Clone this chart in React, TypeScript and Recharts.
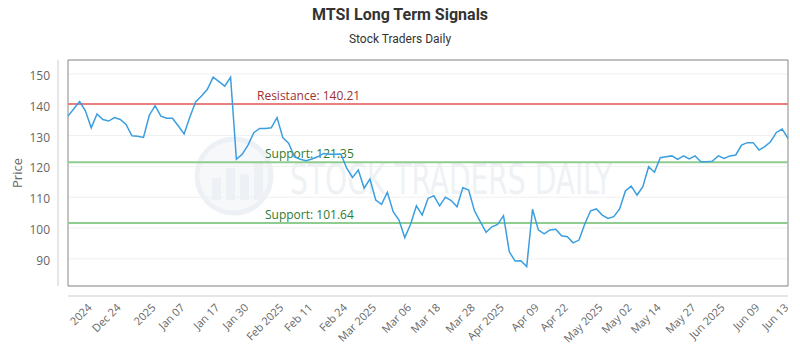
import React from 'react';
import {
  ComposedChart,
  Line,
  XAxis,
  YAxis,
  CartesianGrid,
  ReferenceLine,
  ReferenceArea,
} from 'recharts';

const prices: number[] = [
  136.3, 138.7, 141.0, 138.0, 132.5, 137.0, 135.2, 134.7, 135.8, 135.2,
  133.6, 129.9, 129.8, 129.4, 136.6, 139.7, 136.3, 135.6, 135.6, 133.1,
  130.5, 136.1, 141.0, 142.8, 145.0, 148.9, 147.5, 146.0, 148.9, 122.3,
  123.9, 126.9, 130.9, 132.3, 132.3, 132.5, 135.8, 129.3, 127.5, 123.1,
  122.3, 121.8, 122.4, 123.1, 124.2, 123.9, 123.9, 124.0, 119.4, 116.4,
  118.8, 112.9, 115.9, 109.1, 107.7, 111.6, 105.3, 102.6, 96.9, 101.2,
  107.2, 104.2, 109.6, 110.5, 107.2, 110.0, 108.9, 106.9, 113.1, 112.3,
  105.6, 102.1, 98.6, 100.4, 101.2, 104.0, 92.3, 89.3, 89.4, 87.5,
  106.1, 99.4, 98.1, 99.4, 99.6, 97.5, 97.2, 95.2, 96.1, 101.3,
  105.6, 106.2, 104.2, 103.1, 103.7, 106.2, 112.0, 113.6, 110.7, 113.4,
  119.9, 118.1, 122.8, 123.1, 123.4, 122.3, 123.4, 122.4, 123.4, 121.5,
  121.5, 121.7, 123.4, 122.6, 123.4, 123.7, 126.9, 127.7, 127.7, 125.3,
  126.4, 128.0, 131.0, 132.1, 129.1,
];

const tickIndices: number[] = [3, 8, 14, 19, 25, 30, 36, 41, 47, 52, 58, 63, 69, 74, 80, 85, 91, 96, 101, 107, 112, 118, 123];
const tickLabels: string[] = [
  '2024', 'Dec 24', '2025', 'Jan 07', 'Jan 17', 'Jan 30', 'Feb 2025', 'Feb 11', 'Feb 24',
  'Mar 2025', 'Mar 06', 'Mar 18', 'Mar 28', 'Apr 2025', 'Apr 09', 'Apr 22', 'May 2025',
  'May 02', 'May 14', 'May 27', 'Jun 2025', 'Jun 09', 'Jun 13',
];
const yTicks: number[] = [90, 100, 110, 120, 130, 140, 150];
const yDomain: [number, number] = [81.2, 154.5];
const resistance = 140.21;
const supports: number[] = [121.35, 101.64];

const data = prices.map((price, i) => ({ i, price }));
const lastIndex = prices.length - 1;

const tickText = (v: number) => {
  const k = tickIndices.indexOf(v);
  return k >= 0 ? tickLabels[k] : '';
};

const XTick = (props: any) => {
  const { x, y, payload } = props;
  return (
    <g transform={`translate(${x},${y})`}>
      <text
        transform="rotate(-45)"
        textAnchor="end"
        dy={8}
        dx={2}
        fill="#666"
        fontSize={11}
        fontFamily="'Open Sans', sans-serif"
      >
        {tickText(payload.value)}
      </text>
    </g>
  );
};

const YTick = (props: any) => {
  const { x, y, payload } = props;
  return (
    <text x={x} y={y} dy={6} textAnchor="end" fill="#666" fontSize={12} fontFamily="'Open Sans', sans-serif">
      {payload.value}
    </text>
  );
};

const LineLabel = (props: any) => {
  const { viewBox, text, color, dx } = props;
  if (!viewBox) return null;
  return (
    <text x={viewBox.x + dx} y={viewBox.y - 4} fill={color} fontSize={12} fontFamily="'Open Sans', sans-serif">
      {text}
    </text>
  );
};

const PriceLabel = (props: any) => {
  const { viewBox } = props;
  if (!viewBox) return null;
  const cx = viewBox.x + 17;
  const cy = viewBox.y + viewBox.height / 2;
  return (
    <text
      x={cx}
      y={cy}
      transform={`rotate(-90, ${cx}, ${cy})`}
      textAnchor="middle"
      dominantBaseline="central"
      fill="#666"
      fontSize={13}
      fontFamily="'Open Sans', sans-serif"
    >
      Price
    </text>
  );
};

export default function App() {
  return (
    <div style={{ position: 'absolute', left: 0, top: 0, width: 800, height: 350, background: '#fff' }}>
      <svg width={800} height={350} style={{ position: 'absolute', left: 0, top: 0 }}>
        <circle cx={234} cy={176} r={37} fill="#f6f8fa" stroke="#edf1f5" strokeWidth={5} />
        <rect x={212} y={178} width={9} height={22} fill="#edf1f5" />
        <rect x={226} y={168} width={9} height={32} fill="#edf1f5" />
        <rect x={240} y={174} width={9} height={26} fill="#edf1f5" />
        <rect x={254} y={162} width={9} height={38} fill="#edf1f5" />
        <text
          x={290}
          y={194}
          textLength={322}
          lengthAdjust="spacingAndGlyphs"
          fill="#eef2f5"
          fontSize={42}
          fontFamily="'DejaVu Sans Condensed', 'Roboto', sans-serif"
        >
          STOCK TRADERS DAILY
        </text>
      </svg>
      <div style={{ position: 'absolute', left: 0, top: 0 }}>
        <ComposedChart width={800} height={350} data={data} margin={{ top: 60, right: 12, bottom: 0, left: 0 }}>
          <XAxis xAxisId="gap" type="number" dataKey="i" domain={[0, lastIndex]} height={10} tick={false} axisLine={false} tickLine={false} />
          <XAxis
            xAxisId="main"
            type="number"
            dataKey="i"
            domain={[0, lastIndex]}
            ticks={tickIndices}
            interval={0}
            height={54}
            tick={<XTick />}
            tickLine={false}
            axisLine={{ stroke: '#ccc' }}
          />
          <YAxis yAxisId="gap" type="number" domain={yDomain} width={10} tick={false} axisLine={false} tickLine={false} />
          <YAxis
            yAxisId="main"
            type="number"
            domain={yDomain}
            ticks={yTicks}
            interval={0}
            width={58}
            tick={<YTick />}
            tickLine={false}
            axisLine={{ stroke: '#ccc' }}
            label={<PriceLabel />}
          />
          <CartesianGrid xAxisId="main" yAxisId="main" vertical={false} stroke="#f0f0f0" />
          <ReferenceLine
            xAxisId="main"
            yAxisId="main"
            y={resistance}
            stroke="#e88080"
            strokeWidth={2}
            label={<LineLabel text={`Resistance: ${resistance}`} color="#a03030" dx={189} />}
          />
          {supports.map((s) => (
            <ReferenceLine
              key={s}
              xAxisId="main"
              yAxisId="main"
              y={s}
              stroke="#8fcc8f"
              strokeWidth={2}
              label={<LineLabel text={`Support: ${s}`} color="#2f7a2f" dx={197} />}
            />
          ))}
          <Line
            xAxisId="main"
            yAxisId="main"
            type="linear"
            dataKey="price"
            stroke="#3a9ee0"
            strokeWidth={1.5}
            dot={false}
            isAnimationActive={false}
          />
          <ReferenceArea xAxisId="main" yAxisId="main" x1={0} x2={lastIndex} fill="none" stroke="#888" strokeWidth={1} />
        </ComposedChart>
      </div>
      <div
        style={{
          position: 'absolute',
          top: 5,
          left: 0,
          width: 800,
          textAlign: 'center',
          fontFamily: 'Roboto, sans-serif',
          fontWeight: 700,
          fontSize: 16,
          color: '#333',
        }}
      >
        MTSI Long Term Signals
      </div>
      <div
        style={{
          position: 'absolute',
          top: 32,
          left: 0,
          width: 800,
          textAlign: 'center',
          fontFamily: 'Roboto, sans-serif',
          fontSize: 12,
          color: '#333',
        }}
      >
        Stock Traders Daily
      </div>
    </div>
  );
}
